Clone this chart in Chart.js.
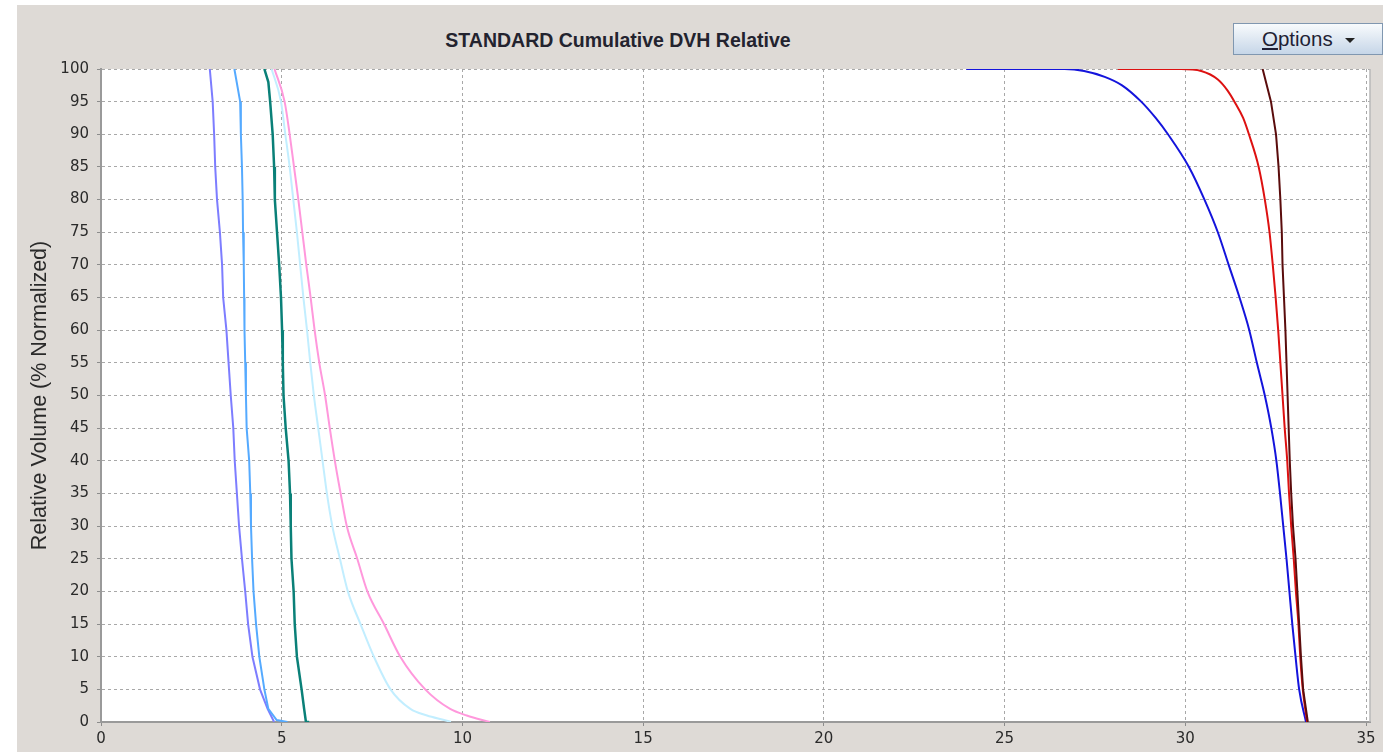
<!DOCTYPE html>
<html>
<head>
<meta charset="utf-8">
<script src="https://cdn.jsdelivr.net/npm/chart.js@4.4.1/dist/chart.umd.min.js"></script>
<style>
  html, body { margin: 0; padding: 0; background: #fff; }
  #painel { position: absolute; left: 17px; top: 5px; width: 1366px; height: 747px; background: #dedad6; overflow: hidden; }
  #titulo { position: absolute; left: 0; width: 1202px; top: 24px; text-align: center;
            font: bold 19.5px "Liberation Sans", Arial, sans-serif; color: #23232f; }
  #opcoes { position: absolute; left: 1216px; top: 18px; width: 148px; height: 30px;
            border: 1px solid #8097b0; background: linear-gradient(#f8fbfd, #dfe8f2 50%, #c6d6e8);
            font: 20.5px "Liberation Sans", Arial, sans-serif; color: #1f1f35; }
  #opcoes span { position: absolute; left: 28px; top: 3px; }
  #opcoes i { position: absolute; left: 111px; top: 14px; width: 0; height: 0;
              border-left: 5.5px solid transparent; border-right: 5.5px solid transparent; border-top: 5px solid #222; }
  #grafico { position: absolute; left: 0; top: 0; }
</style>
</head>
<body>
<div id="painel">
  <div id="titulo">STANDARD Cumulative DVH Relative</div>
  <div id="opcoes"><span><u>O</u>ptions</span><i></i></div>
  <canvas id="grafico" width="1366" height="747"></canvas>
</div>
<script>
// dose (Gy) x volume (%), uma curva por estrutura
const dosePurple = [3.01, 3.09, 3.13, 3.16, 3.21, 3.29, 3.35, 3.38, 3.47, 3.53, 3.59, 3.66, 3.70, 3.76, 3.82, 3.90, 3.99, 4.07, 4.19, 4.40, 4.61, 4.79];
const volPurple  = [100, 95, 90, 85, 80, 75, 70, 65, 60, 55, 50, 45, 40, 35, 30, 25, 20, 15, 10, 5, 2, 0];

const doseSky = [3.69, 3.85, 3.87, 3.90, 3.92, 3.93, 3.95, 3.96, 3.97, 3.99, 4.01, 4.03, 4.10, 4.13, 4.15, 4.18, 4.22, 4.29, 4.38, 4.52, 4.63, 4.86, 5.16];
const volSky  = [100, 95, 90, 85, 80, 75, 70, 65, 60, 55, 50, 45, 40, 35, 30, 25, 20, 15, 10, 5, 2, 0.3, 0];

const doseTeal = [4.52, 4.63, 4.68, 4.75, 4.79, 4.81, 4.87, 4.93, 4.98, 5.01, 5.03, 5.05, 5.11, 5.19, 5.23, 5.25, 5.27, 5.33, 5.36, 5.42, 5.55, 5.62, 5.67, 5.76];
const volTeal  = [100, 98, 95, 90, 85, 80, 75, 70, 65, 60, 55, 50, 45, 40, 35, 30, 25, 20, 15, 10, 5, 2, 0, 0];

const doseCyan = [4.72, 4.98, 5.10, 5.22, 5.32, 5.42, 5.51, 5.60, 5.70, 5.79, 5.89, 6.01, 6.13, 6.25, 6.40, 6.61, 6.83, 7.18, 7.55, 8.01, 8.56, 9.02, 9.57, 9.68];
const volCyan  = [100, 95, 90, 85, 80, 75, 70, 65, 60, 55, 50, 45, 40, 35, 30, 25, 20, 15, 10, 5, 2, 1, 0.2, 0];

const dosePink = [4.80, 5.08, 5.22, 5.34, 5.46, 5.57, 5.68, 5.80, 5.91, 6.04, 6.20, 6.33, 6.47, 6.63, 6.80, 7.09, 7.37, 7.83, 8.28, 8.97, 9.66, 10.12, 10.76];
const volPink  = [100, 95, 90, 85, 80, 75, 70, 65, 60, 55, 50, 45, 40, 35, 30, 25, 20, 15, 10, 5, 2, 1, 0];

const doseBlue = [23.94, 26.66, 27.20, 27.77, 28.25, 28.78, 29.18, 29.52, 30.10, 30.53, 30.90, 31.20, 31.50, 31.77, 31.98, 32.20, 32.38, 32.52, 32.62, 32.71, 32.80, 32.88, 32.96, 33.05, 33.15, 33.34];
const volBlue  = [100, 100, 99.7, 98.8, 97.5, 95, 92.5, 90, 85, 80, 75, 70, 65, 60, 55, 50, 45, 40, 35, 30, 25, 20, 15, 10, 5, 0];

const doseRed = [28.13, 29.88, 30.44, 30.90, 31.17, 31.36, 31.60, 31.76, 32.03, 32.20, 32.33, 32.42, 32.50, 32.57, 32.63, 32.69, 32.75, 32.82, 32.87, 32.93, 33.00, 33.06, 33.13, 33.18, 33.25, 33.37];
const volRed  = [100, 100, 99.7, 98.4, 96.7, 95, 92.5, 90, 85, 80, 75, 70, 65, 60, 55, 50, 45, 40, 35, 30, 25, 20, 15, 10, 5, 0];

const doseBrown = [32.14, 32.37, 32.51, 32.58, 32.63, 32.67, 32.69, 32.73, 32.77, 32.80, 32.83, 32.86, 32.89, 32.93, 32.98, 33.05, 33.10, 33.15, 33.20, 33.26, 33.39];
const volBrown  = [100, 95, 90, 85, 80, 75, 70, 65, 60, 55, 50, 45, 40, 35, 30, 25, 20, 15, 10, 5, 0];

const xTickStep = 5;
const yTickStep = 5;

// suave = curva com interpolação monótona (as de formato arredondado)
const curvas = [
    { nome: "Estrutura 8", dose: doseBrown,  vol: volBrown,  cor: "#5a0c0c", largura: 2,   suave: false },
    { nome: "Estrutura 7", dose: doseRed,    vol: volRed,    cor: "#dd1111", largura: 2,   suave: true },
    { nome: "Estrutura 6", dose: doseBlue,   vol: volBlue,   cor: "#1414dc", largura: 2,   suave: true },
    { nome: "Estrutura 5", dose: dosePink,   vol: volPink,   cor: "#ff98dc", largura: 2,   suave: true },
    { nome: "Estrutura 4", dose: doseCyan,   vol: volCyan,   cor: "#c2eeff", largura: 2,   suave: true },
    { nome: "Estrutura 3", dose: doseTeal,   vol: volTeal,   cor: "#0a8078", largura: 2.5, suave: false },
    { nome: "Estrutura 2", dose: doseSky,    vol: volSky,    cor: "#55aaff", largura: 2,   suave: false },
    { nome: "Estrutura 1", dose: dosePurple, vol: volPurple, cor: "#7d7dff", largura: 2,   suave: false }
];

// fundo branco só na área do gráfico + borda direita
const areaBranca = {
    id: "areaBranca",
    beforeDraw(chart) {
        const { ctx, chartArea: a } = chart;
        ctx.save();
        ctx.fillStyle = "#ffffff";
        ctx.fillRect(a.left, a.top, a.right - a.left, a.bottom - a.top);
        ctx.restore();
    },
    afterDraw(chart) {
        const { ctx, chartArea: a } = chart;
        ctx.save();
        ctx.strokeStyle = "#b8b8b8";
        ctx.lineWidth = 1.5;
        ctx.beginPath();
        ctx.moveTo(a.right, a.top);
        ctx.lineTo(a.right, a.bottom);
        ctx.stroke();
        ctx.restore();
    }
};

const fonteTicks = { family: "'DejaVu Sans', sans-serif", size: 15 };

new Chart(document.getElementById("grafico"), {
    type: "line",
    data: {
        datasets: curvas.map(c => ({
            label: c.nome,
            data: c.dose.map((d, i) => ({ x: d, y: c.vol[i] })),
            borderColor: c.cor,
            borderWidth: c.largura,
            pointRadius: 0,
            cubicInterpolationMode: c.suave ? "monotone" : "default",
            tension: 0,
            fill: false
        }))
    },
    options: {
        responsive: false,
        animation: false,
        layout: { padding: { top: 64, right: 13, left: 0, bottom: 0 } },
        plugins: {
            legend: { display: false },
            tooltip: { enabled: false }
        },
        scales: {
            x: {
                type: "linear",
                min: 0,
                max: 35.11,
                afterFit: s => { s.height = 30; },
                ticks: { stepSize: xTickStep, includeBounds: false, autoSkip: false, maxRotation: 0,
                         color: "#2a2a2a", font: fonteTicks, padding: 4 },
                grid: { color: "#a8a8a8", lineWidth: 1, tickLength: 4, tickColor: "#8c8c8c", tickWidth: 1 },
                border: { display: true, color: "#9a9a9a", width: 2, dash: [3, 3] }
            },
            y: {
                min: 0,
                max: 100,
                afterFit: s => { s.width = 84; },
                ticks: { stepSize: yTickStep, autoSkip: false, color: "#2a2a2a", font: fonteTicks, padding: 8 },
                grid: { color: "#a8a8a8", lineWidth: 1, tickLength: 4, tickColor: "#8c8c8c", tickWidth: 1 },
                border: { display: true, color: "#9a9a9a", width: 2, dash: [3, 3] },
                title: {
                    display: true,
                    text: "Relative Volume (% Normalized)",
                    color: "#2a2a2a",
                    font: { family: "'Liberation Sans', Arial, sans-serif", size: 21.5 },
                    padding: { top: 10, bottom: 0 }
                }
            }
        }
    },
    plugins: [areaBranca]
});
</script>
</body>
</html>
